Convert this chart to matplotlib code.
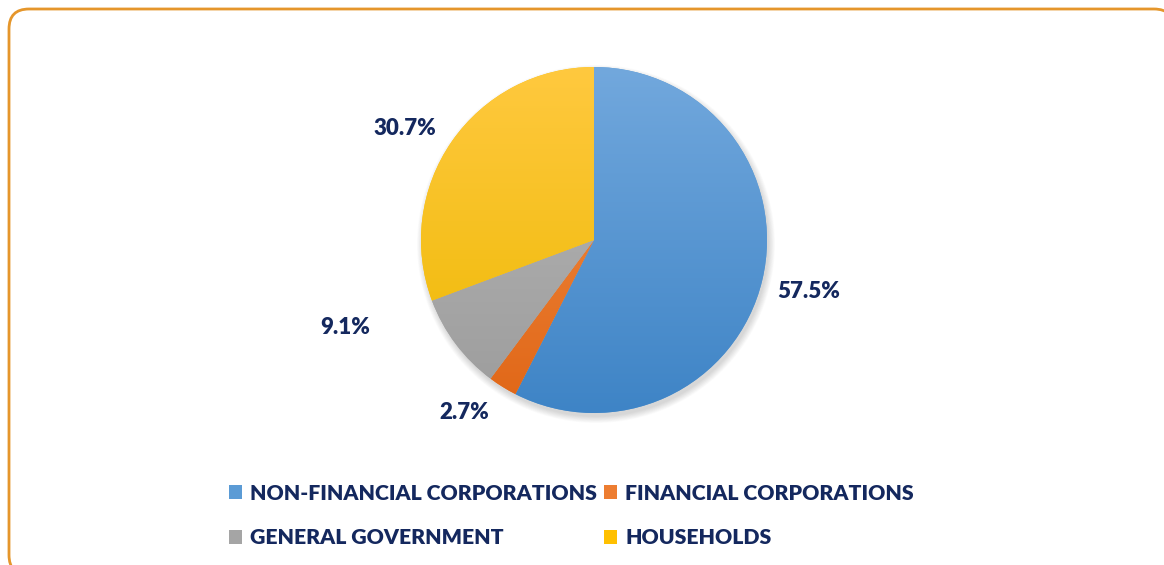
import matplotlib
matplotlib.use("Agg")
import matplotlib.pyplot as plt
import numpy as np
from matplotlib.colors import to_rgb
from matplotlib.patches import FancyBboxPatch, Circle

# data
sectors = ["NON-FINANCIAL CORPORATIONS", "FINANCIAL CORPORATIONS",
           "GENERAL GOVERNMENT", "HOUSEHOLDS"]
shares = [57.5, 2.7, 9.1, 30.7]

# style
top_cols = ["#72A8DD", "#F3914A", "#B8B8B8", "#FFC93F"]
bot_cols = ["#3E84C6", "#E06616", "#9C9C9C", "#EDB800"]
mid_cols = ["#5B9BD5", "#ED7D31", "#A5A5A5", "#FFC000"]
navy = "#14285E"
lab_ang = [-13.5, -127.0, -160.7, 149.5]
lab_rad = [221, 216, 264, 220]

W, H = 1164, 565
fig = plt.figure(figsize=(W / 100, H / 100), dpi=100)
ax = fig.add_axes([0, 0, 1, 1])

cx, cy, r = 594, H - 240, 173

# soft shadow
for i in range(10):
    ax.add_patch(Circle((cx + 2, cy - 4), r + 6 - i * 0.7, color="black",
                        alpha=0.014, lw=0, zorder=1))

wedges, _ = ax.pie(shares, center=(cx, cy), radius=r, startangle=90,
                   counterclock=False, colors=mid_cols,
                   wedgeprops=dict(lw=0, zorder=2), frame=True)
ax.set_xlim(0, W)
ax.set_ylim(0, H)
ax.axis("off")

# rounded orange frame (bottom/right run off the picture)
frame = FancyBboxPatch((9, -10), 1165, H - 9 + 10,
                       boxstyle="round,pad=0,rounding_size=20",
                       fc="white", ec="#E5962B", lw=2.0, zorder=0)
ax.add_patch(frame)

# vertical gradient inside each slice
for w, c1, c2 in zip(wedges, top_cols, bot_cols):
    t = np.linspace(0, 1, 256)[:, None, None]
    grad = (1 - t) * np.array(to_rgb(c1)) + t * np.array(to_rgb(c2))
    im = ax.imshow(grad, extent=[cx - r, cx + r, cy - r, cy + r],
                   origin="upper", aspect="auto", zorder=3)
    im.set_clip_path(w)

for v, a, rr in zip(shares, lab_ang, lab_rad):
    x = cx + rr * np.cos(np.radians(a))
    y = cy + rr * np.sin(np.radians(a))
    ax.text(x, y, f"{v:.1f}%", ha="center", va="center", fontsize=16,
            fontweight="heavy", family="Lato", color=navy, zorder=5)

order = [0, 2, 1, 3]
leg = fig.legend([wedges[i] for i in order], [sectors[i] for i in order],
                 ncol=2, loc="upper left", bbox_to_anchor=(218 / W, 1 - 473 / H),
                 frameon=False, borderpad=0,
                 handlelength=0.62, handleheight=0.62, handletextpad=0.4,
                 columnspacing=0.3, labelspacing=1.2,
                 prop=dict(family="Lato", weight="heavy", size=15.3))
for t in leg.get_texts():
    t.set_color(navy)

fig.savefig("out.png", dpi=100)
